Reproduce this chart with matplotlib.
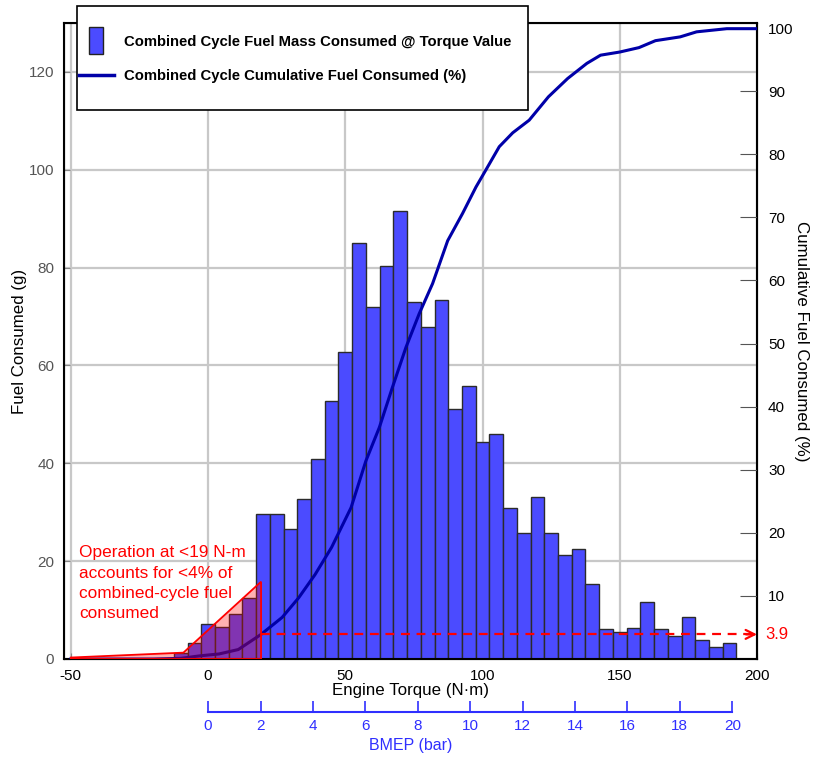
import numpy as np
import matplotlib
matplotlib.use('Agg')
import matplotlib.pyplot as plt
import matplotlib.patches as mpatches
import matplotlib.transforms as mtransforms
from matplotlib.legend_handler import HandlerPatch
from matplotlib.lines import Line2D

plt.rcParams['font.family'] = ['Liberation Sans', 'DejaVu Sans']
plt.rcParams['axes.unicode_minus'] = False

# histogram of fuel mass per 5 N-m torque bin (bin centres)
torque_bins = [-10, -5, 0, 5, 10, 15, 20, 25, 30, 35, 40, 45, 50, 55, 60, 65, 70,
               75, 80, 85, 90, 95, 100, 105, 110, 115, 120, 125, 130, 135, 140,
               145, 150, 155, 160, 165, 170, 175, 180, 185, 190]
fuel_mass = [1.3, 3.2, 7.1, 6.5, 9.3, 12.5, 29.6, 29.6, 26.5, 32.7, 40.8, 52.8,
             62.8, 85.1, 72.0, 80.3, 91.6, 72.9, 67.8, 73.4, 51.1, 55.8, 44.3,
             45.9, 30.9, 25.8, 33.1, 25.8, 21.3, 22.4, 15.4, 6.2, 5.5, 6.3, 11.6,
             6.1, 4.7, 8.5, 3.8, 2.5, 3.2]

# cumulative fuel curve (%)
cum_torque = [-50, -20, -10, -3, 4, 11, 19.3, 27, 33, 39, 45, 52.1, 57.5, 62.4,
              67.2, 72.1, 76.9, 81.8, 87.3, 92.7, 97.6, 101.2, 106.1, 111, 117, 124,
              131, 138, 143, 150, 157, 163, 172, 178, 189, 200]
cum_pct = [0, 0, 0.1, 0.5, 0.8, 1.5, 3.9, 6.6, 9.7, 13.4, 17.7, 24.0, 31.4, 36.7,
           43.1, 49.4, 54.7, 59.5, 66.3, 70.6, 74.8, 77.5, 81.2, 83.4, 85.4, 89.1,
           92.0, 94.4, 95.7, 96.2, 96.9, 98.0, 98.6, 99.4, 99.9, 99.9]

# low-load highlight
low_load_limit = 19.3
low_load_pct = 3.9
highlight_x = [-50, -50, -9, 19.3, 19.3]
highlight_y = [0, 0.3, 1.3, 15.8, 0]

bmep_ticks = list(range(0, 21, 2))
displacement = 0.0012  # m^3

BAR_BLUE = '#4b4bff'
CURVE_BLUE = '#0000a8'
AXIS_BLUE = '#2f2fff'


def torque_to_bmep(t):
    return np.asarray(t) * 4 * np.pi / (displacement * 1e5)


def bmep_to_torque(b):
    return np.asarray(b) * displacement * 1e5 / (4 * np.pi)


def tall_box(legend, orig_handle, xdescent, ydescent, width, height, fontsize):
    return mpatches.Rectangle((-xdescent + 0.3 * width, -ydescent - 0.8 * height),
                              0.4 * width, 2.6 * height)


fig = plt.figure(figsize=(8.15, 7.57), dpi=100)
ax = fig.add_axes([64 / 815, 1 - 659 / 757, (757 - 64) / 815, (659 - 23) / 757])

ax.bar(torque_bins, fuel_mass, width=5, color=BAR_BLUE, edgecolor='#2b2b2b',
       linewidth=1, zorder=2)
ax.set_xlim(-52.5, 200)
ax.set_ylim(0, 130)
ax.set_xticks([-50, 0, 50, 100, 150, 200])
ax.set_yticks(range(0, 121, 20))
ax.set_axisbelow(True)
ax.grid(True, color='#c8c8c8', lw=1.6)
ax.tick_params(axis='x', direction='in', length=4, color='#888888', labelsize=11, pad=7)
ax.tick_params(axis='y', direction='in', length=4, color='#888888', labelsize=11,
               labelcolor='#555555', pad=7)
for sp in ax.spines.values():
    sp.set_linewidth(1.5)
ax.set_xlabel('Engine Torque (N\u00b7m)', fontsize=12.2, labelpad=0)
ax.set_ylabel('Fuel Consumed (g)', fontsize=12.2, labelpad=1)

ax.text(-47, 23.2, 'Operation at <19 N-m\naccounts for <4% of\ncombined-cycle fuel\nconsumed',
        color='red', fontsize=12.4, va='top', ha='left', linespacing=1.42, zorder=5)

# cumulative curve on the right axis
ax2 = ax.twinx()
ax2.plot(cum_torque, cum_pct, color=CURVE_BLUE, lw=2.2, zorder=3)
ax2.add_patch(mpatches.Polygon(np.column_stack([highlight_x, highlight_y]),
                               closed=True, transform=ax.transData,
                               facecolor=(1, 0, 0, 0.3), edgecolor='red', lw=1.3,
                               zorder=4))
ax2.plot([low_load_limit, 198], [low_load_pct, low_load_pct], color='red', ls='--',
         lw=1.6, dashes=(4, 3), zorder=4)
ax2.annotate('', xy=(200, low_load_pct), xytext=(196, low_load_pct),
             arrowprops=dict(arrowstyle='->', color='red', lw=1.6,
                             mutation_scale=16, shrinkA=0, shrinkB=0), zorder=4)
trans = mtransforms.blended_transform_factory(ax2.transAxes, ax2.transData)
ax2.text(1.012, low_load_pct, '3.9', transform=trans, color='red', fontsize=12,
         va='center', ha='left')
ax2.set_ylim(0, 100.8)
ax2.set_xlim(-52.5, 200)
ax2.set_yticks(range(10, 101, 10))
ax2.tick_params(axis='y', direction='in', length=12, color='#555555', labelsize=11, pad=8)
ax2.set_ylabel('Cumulative Fuel Consumed (%)', rotation=270, va='bottom',
               fontsize=12.2, labelpad=0)

# BMEP scale below the torque axis
sec = ax.secondary_xaxis(-0.0833, functions=(torque_to_bmep, bmep_to_torque))
sec.set_xticks(bmep_ticks)
sec.spines['bottom'].set_bounds(0, 20)
sec.spines['bottom'].set_color(AXIS_BLUE)
sec.spines['bottom'].set_linewidth(1.5)
sec.tick_params(direction='in', length=8, width=1.2, color=AXIS_BLUE,
                labelcolor=AXIS_BLUE, labelsize=11, pad=5)
sec.set_xlabel('BMEP (bar)', color=AXIS_BLUE, fontsize=11.5, labelpad=4)

# legend box
fig.add_artist(mpatches.Rectangle((77 / 815, 1 - 110 / 757), (528 - 77) / 815, 104 / 757,
                                  transform=fig.transFigure, facecolor='white',
                                  edgecolor='black', lw=1.2, zorder=4))
handles = [mpatches.Rectangle((0, 0), 1, 1, facecolor=BAR_BLUE, edgecolor='#222222'),
           Line2D([], [], color=CURVE_BLUE, lw=2.5)]
labels = ['Combined Cycle Fuel Mass Consumed @ Torque Value',
          'Combined Cycle Cumulative Fuel Consumed (%)']
leg = fig.legend(handles, labels, loc='center left',
                 bbox_to_anchor=(79 / 815, 1 - 59 / 757), frameon=False,
                 prop={'weight': 'bold', 'size': 10.7}, handlelength=2.35,
                 handletextpad=0.65, labelspacing=1.4, borderpad=0, borderaxespad=0,
                 handler_map={mpatches.Rectangle: HandlerPatch(patch_func=tall_box)})
leg.set_zorder(6)

fig.savefig('out.png', dpi=100)
